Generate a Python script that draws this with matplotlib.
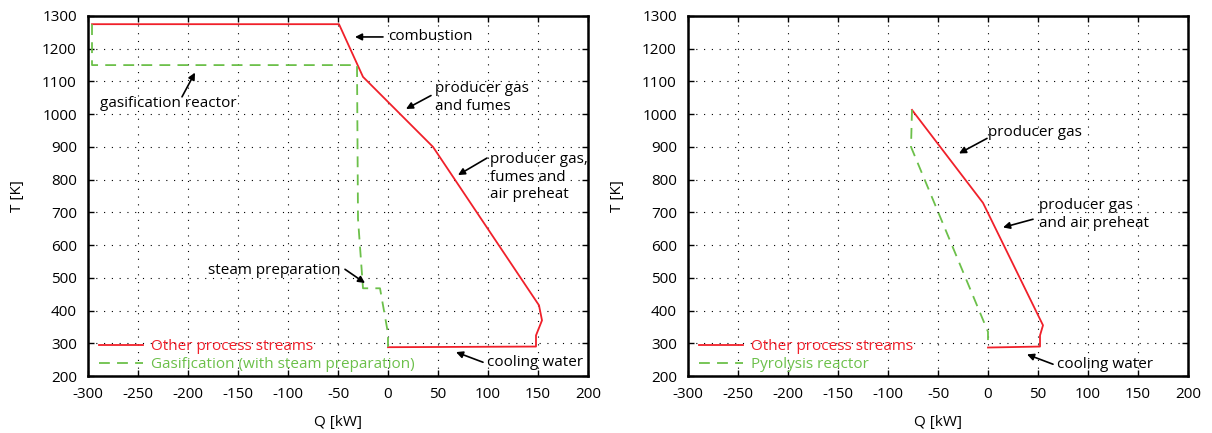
import numpy as np
import matplotlib
matplotlib.use('Agg')
from matplotlib import pyplot as plt

plt.rcParams['font.family'] = ['Open Sans', 'DejaVu Sans']
plt.rcParams['font.size'] = 11
plt.rcParams['axes.unicode_minus'] = False

# gasification (left) curves
gas_red_q = [-296, -49, -25, 45, 151, 154, 148, 148, 0]
gas_red_t = [1275, 1275, 1114, 900, 416, 370, 324, 290, 288]
gas_green_q = [-296, -296, -31, -30, -25, -8, 0, 0]
gas_green_t = [1275, 1150, 1150, 680, 468, 468, 330, 289]

# pyrolysis (right) curves
pyr_red_q = [-76, -5, 55, 52, 52, 0]
pyr_red_t = [1013, 729, 355, 324, 290, 287]
pyr_green_q = [-76, -77, 0, 0]
pyr_green_t = [1013, 900, 335, 289]

xticks = np.arange(-300, 201, 50)
yticks = np.arange(200, 1301, 100)

red = '#f0202a'
green = '#6cc04a'

fig = plt.figure(figsize=(12.12, 4.33), dpi=100)
ax1 = fig.add_axes([88/1212, 1-376/433, 500/1212, 360/433])
ax2 = fig.add_axes([688/1212, 1-376/433, 500/1212, 360/433])


def setup(ax, red_label, green_label, rq, rt, gq, gt):
    ax.plot(rq, rt, color=red, lw=1.3, label=red_label)
    ax.plot(gq, gt, color=green, lw=1.3, ls=(0, (6, 4)), label=green_label)
    ax.set_xlim(-300, 200)
    ax.set_ylim(200, 1300)
    ax.set_xticks(xticks)
    ax.set_yticks(yticks)
    ax.grid(True, color='black', ls=(0, (1, 6)), lw=0.8)
    ax.tick_params(direction='in', top=True, right=True, length=4, width=1)
    ax.tick_params(axis='x', pad=8)
    ax.tick_params(axis='y', pad=8)
    for s in ax.spines.values():
        s.set_linewidth(1.8)
    ax.set_xlabel('Q [kW]', labelpad=9)
    ax.set_ylabel('T [K]', labelpad=12)
    leg = ax.legend(loc='lower left', frameon=False, handlelength=2.9,
                    bbox_to_anchor=(0.009, -0.007), borderaxespad=0,
                    labelspacing=0.2, handletextpad=0.5)
    for txt, c in zip(leg.get_texts(), [red, green]):
        txt.set_color(c)


setup(ax1, 'Other process streams', 'Gasification (with steam preparation)',
      gas_red_q, gas_red_t, gas_green_q, gas_green_t)
setup(ax2, 'Other process streams', 'Pyrolysis reactor',
      pyr_red_q, pyr_red_t, pyr_green_q, pyr_green_t)

arw = dict(arrowstyle='-|>', color='black', lw=1.2, mutation_scale=10, shrinkA=0, shrinkB=0)


def note(ax, text, x, y, tip, tail, ha='left'):
    ax.text(x, y, text, ha=ha, va='center', linespacing=1.25)
    ax.annotate('', xy=tip, xytext=tail, arrowprops=arw)


note(ax1, 'combustion', 0, 1236, (-33, 1236), (-5, 1236))
note(ax1, 'gasification reactor', -288, 1034, (-193, 1127), (-206, 1053))
note(ax1, 'producer gas\nand fumes', 47, 1050, (18, 1016), (43, 1057))
note(ax1, 'producer gas,\nfumes and\nair preheat', 102, 808, (70, 814), (99, 866))
note(ax1, 'steam preparation', -180, 523, (-23, 484), (-43, 526))
note(ax1, 'cooling water', 99, 242, (68, 273), (95, 242))

note(ax2, 'producer gas', 0, 943, (-29, 880), (-1, 926))
note(ax2, 'producer gas\nand air preheat', 51, 694, (15, 654), (45, 679))
note(ax2, 'cooling water', 69, 236, (39, 266), (65, 236))

fig.savefig('out.png', dpi=100)
